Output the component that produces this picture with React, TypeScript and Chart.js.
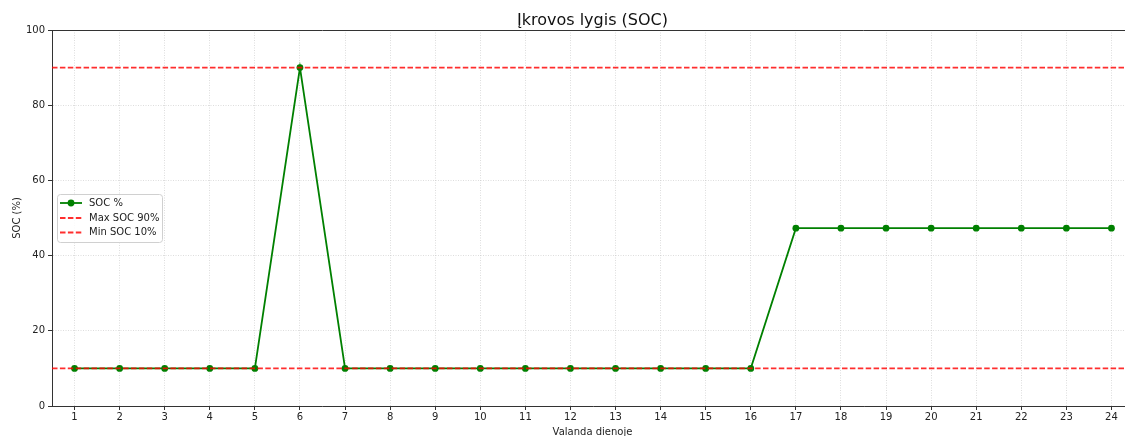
import React, { useEffect, useRef } from "react";
import { Chart, registerables } from "chart.js";

Chart.register(...registerables);

const hours = [1, 2, 3, 4, 5, 6, 7, 8, 9, 10, 11, 12, 13, 14, 15, 16, 17, 18, 19, 20, 21, 22, 23, 24];
const socValues = [10, 10, 10, 10, 10, 90, 10, 10, 10, 10, 10, 10, 10, 10, 10, 10, 47.3, 47.3, 47.3, 47.3, 47.3, 47.3, 47.3, 47.3];
const maxSoc = 90;
const minSoc = 10;
const xRange = [0.5, 24.5];
const yTicks = [0, 20, 40, 60, 80, 100];
const titleText = "Įkrovos lygis (SOC)";
const xLabel = "Valanda dienoje";
const yLabel = "SOC (%)";
const legendLabels = ["SOC %", "Max SOC 90%", "Min SOC 10%"];

const FONT = "'DejaVu Sans', sans-serif";
const GREEN = "#008000";
const RED = "rgba(255,0,0,0.82)";
const RED_DASH = [5.5, 2.4];

const decorPlugin = {
  id: "decor",
  afterDraw(chart: any) {
    const { ctx, chartArea } = chart;
    const cx = 592.5;
    ctx.save();
    // top spine
    ctx.strokeStyle = "#333";
    ctx.lineWidth = 1;
    ctx.beginPath();
    ctx.moveTo(chartArea.left, Math.round(chartArea.top) + 0.5);
    ctx.lineTo(chartArea.right, Math.round(chartArea.top) + 0.5);
    ctx.stroke();

    // title
    ctx.fillStyle = "#111";
    ctx.font = `16px ${FONT}`;
    ctx.textAlign = "center";
    ctx.textBaseline = "alphabetic";
    ctx.fillText(titleText, cx, 25);

    // x label
    ctx.font = `10px ${FONT}`;
    ctx.fillStyle = "#222";
    ctx.fillText(xLabel, cx, 434.5);

    // y label
    ctx.save();
    ctx.translate(17, (chartArea.top + chartArea.bottom) / 2);
    ctx.rotate(-Math.PI / 2);
    ctx.textBaseline = "middle";
    ctx.fillText(yLabel, 0, 0);
    ctx.restore();

    // legend
    const bx = 57.5, by = 194.5, bw = 105, bh = 48, r = 3;
    ctx.beginPath();
    ctx.moveTo(bx + r, by);
    ctx.lineTo(bx + bw - r, by);
    ctx.arcTo(bx + bw, by, bx + bw, by + r, r);
    ctx.lineTo(bx + bw, by + bh - r);
    ctx.arcTo(bx + bw, by + bh, bx + bw - r, by + bh, r);
    ctx.lineTo(bx + r, by + bh);
    ctx.arcTo(bx, by + bh, bx, by + bh - r, r);
    ctx.lineTo(bx, by + r);
    ctx.arcTo(bx, by, bx + r, by, r);
    ctx.closePath();
    ctx.fillStyle = "rgba(255,255,255,0.85)";
    ctx.fill();
    ctx.strokeStyle = "#d0d0d0";
    ctx.lineWidth = 1;
    ctx.stroke();

    const rows = [203, 218, 232.5];
    const datasets = chart.data.datasets;
    rows.forEach((ry, i) => {
      const ds = datasets[i];
      ctx.save();
      ctx.strokeStyle = ds.borderColor;
      ctx.lineWidth = 1.8;
      ctx.setLineDash(ds.borderDash || []);
      ctx.beginPath();
      ctx.moveTo(60, ry);
      ctx.lineTo(82, ry);
      ctx.stroke();
      ctx.setLineDash([]);
      if (i === 0) {
        ctx.fillStyle = ds.borderColor;
        ctx.beginPath();
        ctx.arc(71, ry, 3.4, 0, Math.PI * 2);
        ctx.fill();
      }
      ctx.restore();
      ctx.fillStyle = "#222";
      ctx.font = `10px ${FONT}`;
      ctx.textAlign = "left";
      ctx.textBaseline = "middle";
      ctx.fillText(legendLabels[i], 89, ry);
    });
    ctx.restore();
  },
};

export default function App() {
  const canvasRef = useRef<HTMLCanvasElement | null>(null);

  useEffect(() => {
    if (!canvasRef.current) return;
    Chart.defaults.font.family = FONT;
    const chart = new Chart(canvasRef.current, {
      type: "line",
      data: {
        datasets: [
          {
            label: legendLabels[0],
            data: hours.map((h, i) => ({ x: h, y: socValues[i] })),
            borderColor: GREEN,
            backgroundColor: GREEN,
            borderWidth: 1.8,
            pointRadius: 3.4,
            pointBorderWidth: 0,
            pointBackgroundColor: GREEN,
            tension: 0,
            order: 2,
          },
          {
            label: legendLabels[1],
            data: xRange.map((x) => ({ x, y: maxSoc })),
            borderColor: RED,
            borderDash: RED_DASH,
            borderWidth: 1.8,
            pointRadius: 0,
            order: 1,
          },
          {
            label: legendLabels[2],
            data: xRange.map((x) => ({ x, y: minSoc })),
            borderColor: RED,
            borderDash: RED_DASH,
            borderWidth: 1.8,
            pointRadius: 0,
            order: 1,
          },
        ],
      },
      options: {
        responsive: true,
        maintainAspectRatio: false,
        animation: false,
        layout: { padding: { top: 30, left: 0, right: 0, bottom: 0 } },
        plugins: {
          legend: { display: false },
          title: { display: false },
          tooltip: { enabled: false },
        },
        scales: {
          x: {
            type: "linear",
            min: xRange[0],
            max: xRange[1],
            afterBuildTicks: (s: any) => {
              s.ticks = hours.map((v) => ({ value: v }));
            },
            afterFit: (s: any) => {
              s.height = 30;
            },
            grid: {
              color: "rgba(170,170,170,0.5)",
              lineWidth: 0.8,
              tickColor: "#333",
              tickLength: 4,
              tickWidth: 1,
            },
            border: { color: "#333", width: 1, dash: [1, 1.5] },
            ticks: {
              color: "#222",
              font: { size: 10, family: FONT },
              padding: 1,
              maxRotation: 0,
              autoSkip: false,
              callback: (v: any) => String(v),
            },
          },
          y: {
            type: "linear",
            min: 0,
            max: 100,
            afterBuildTicks: (s: any) => {
              s.ticks = yTicks.map((v) => ({ value: v }));
            },
            afterFit: (s: any) => {
              s.width = 52;
            },
            grid: {
              color: "rgba(170,170,170,0.5)",
              lineWidth: 0.8,
              tickColor: "#333",
              tickLength: 4,
              tickWidth: 1,
            },
            border: { color: "#333", width: 1, dash: [1, 1.5] },
            ticks: {
              color: "#222",
              font: { size: 10, family: FONT },
              padding: 3,
              callback: (v: any) => String(v),
            },
          },
        },
      },
      plugins: [decorPlugin],
    } as any);
    return () => chart.destroy();
  }, []);

  return (
    <div style={{ position: "fixed", left: 0, top: 0, width: 1125, height: 436, overflow: "hidden", background: "#fff" }}>
      <div style={{ position: "relative", width: 1138, height: 436 }}>
        <canvas ref={canvasRef} />
      </div>
    </div>
  );
}
